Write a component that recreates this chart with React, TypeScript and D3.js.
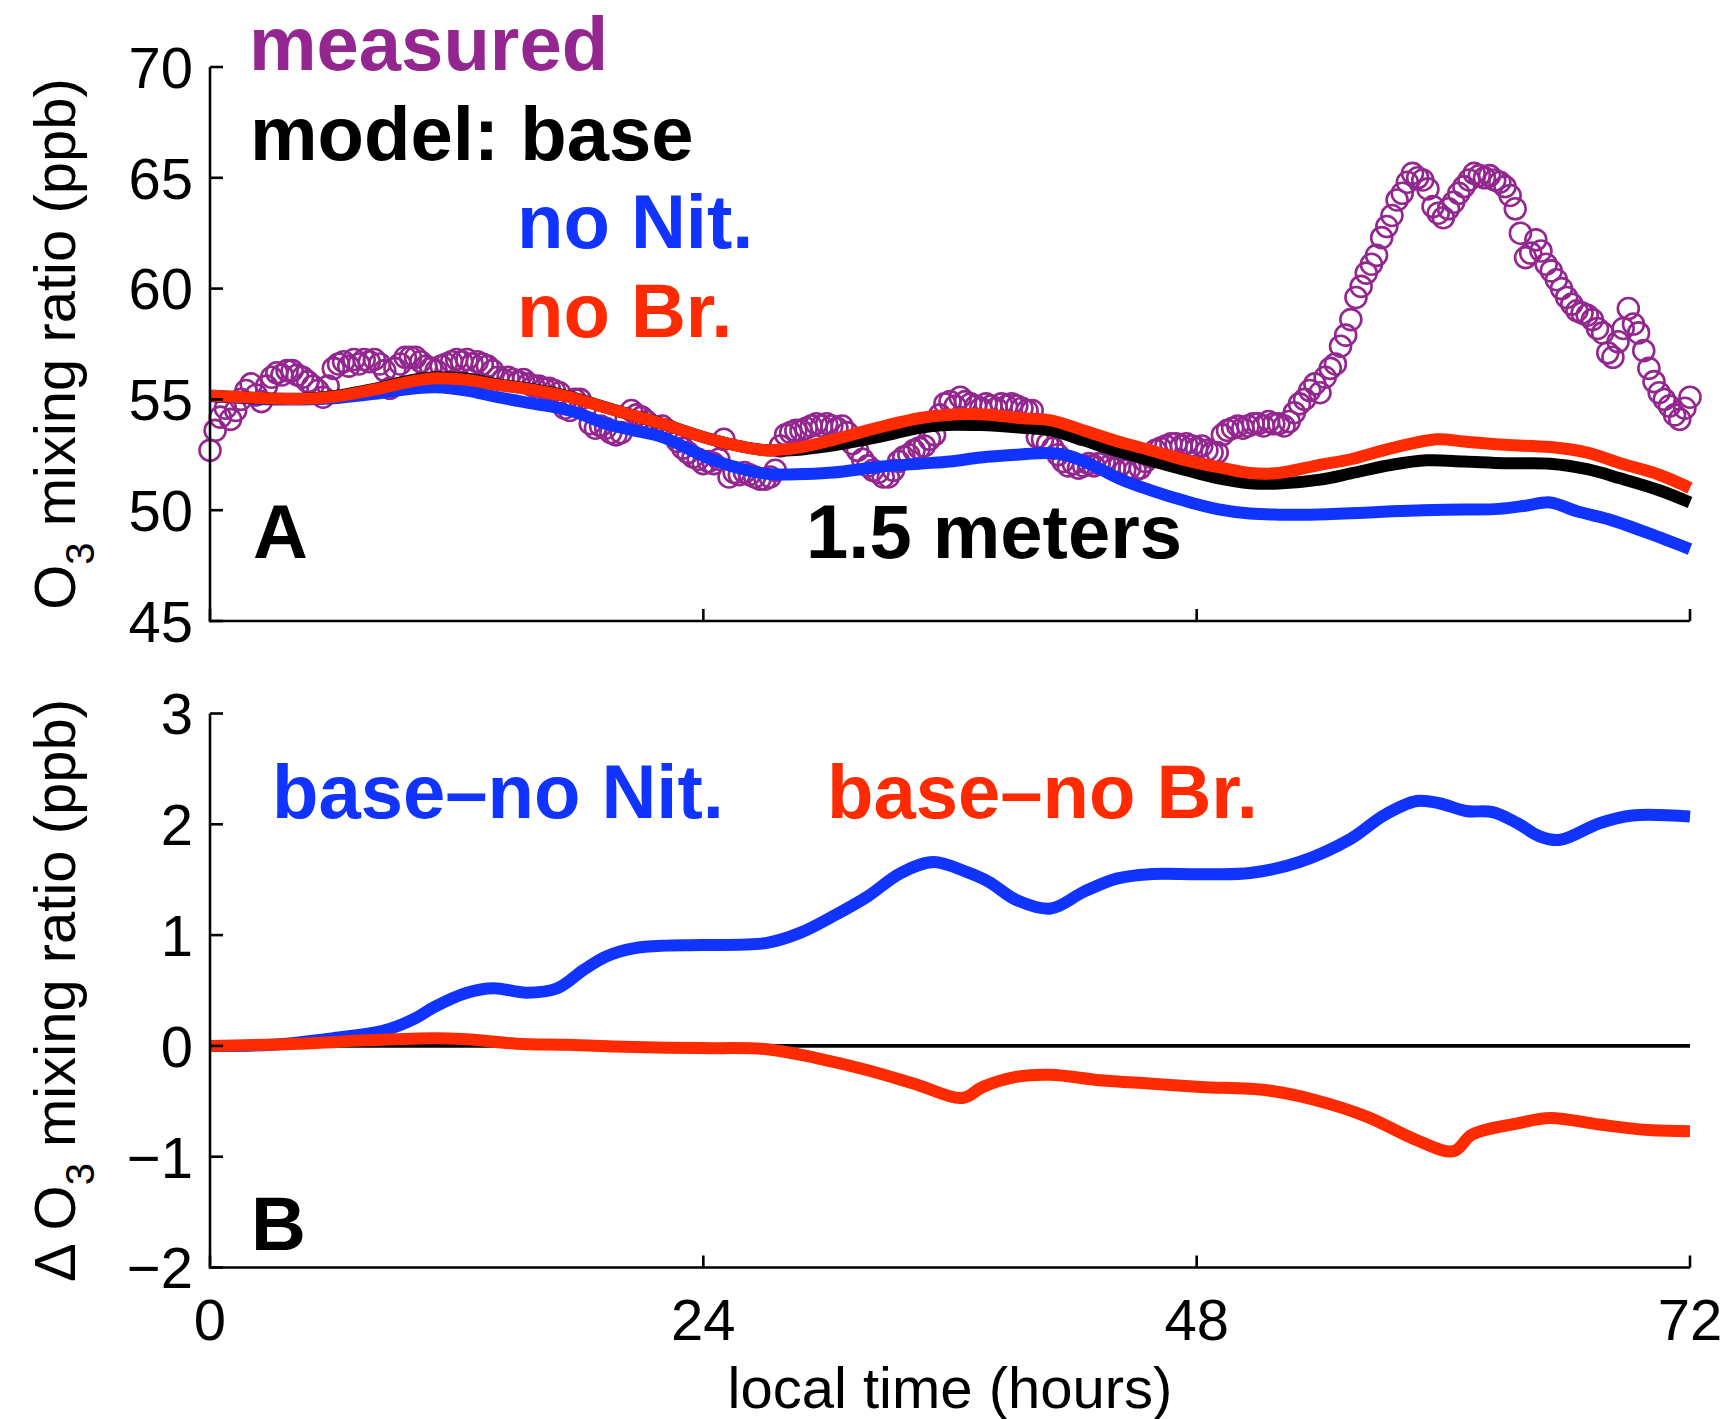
import React from 'react';
import * as d3 from 'd3';

// ---------- data ----------
const xTickHours = [0, 24, 48, 72];
const topYTicks = [45, 50, 55, 60, 65, 70];
const bottomYTicks = [-2, -1, 0, 1, 2, 3];

// measured O3 (ppb), sampled every 0.25 h starting at hour 0
const measuredStepHours = 0.25;
const measured = [
  52.7, 53.6, 54.2, 54.6, 54.1, 54.5, 55.0, 55.4, 55.7, 55.2, 54.9, 55.6,
  56.0, 56.2, 56.1, 56.3, 56.3, 56.1, 56.0, 55.8, 55.6, 55.4, 55.1, 55.6,
  56.4, 56.6, 56.7, 56.5, 56.8, 56.6, 56.8, 56.7, 56.8, 56.6, 56.3, 55.5,
  56.4, 56.6, 56.9, 56.9, 56.9, 56.7, 56.5, 56.4, 56.3, 56.5, 56.6, 56.7,
  56.8, 56.7, 56.8, 56.6, 56.7, 56.6, 56.5, 56.3, 56.0, 55.9, 56.0, 55.9,
  55.8, 55.9, 55.7, 55.6, 55.6, 55.5, 55.5, 55.4, 55.3, 54.6, 54.5, 55.0,
  55.0, 54.6, 53.9, 53.7, 53.8, 53.7, 53.5, 53.4, 53.5, 54.1, 54.5, 54.3,
  54.2, 54.0, 53.8, 53.7, 53.8, 53.6, 53.4, 53.1, 52.8, 52.6, 52.4, 52.3,
  52.1, 52.2, 52.1, 52.3, 53.2, 51.5, 51.7, 51.6, 51.7, 51.6, 51.5, 51.4,
  51.4, 51.5, 51.8, 52.9, 53.4, 53.5, 53.6, 53.6, 53.7, 53.8, 53.9, 53.8,
  53.9, 53.8, 53.7, 53.8, 53.5, 53.0, 52.7, 52.3, 52.0, 51.8, 51.7, 51.5,
  51.5, 51.8, 52.2, 52.4, 52.5, 52.7, 52.8, 52.9, 53.2, 53.4, 54.3, 54.8,
  54.9, 54.7, 55.1, 54.9, 54.8, 54.7, 54.6, 54.8, 54.7, 54.6, 54.8, 54.7,
  54.8, 54.7, 54.6, 54.5, 54.5, 53.3, 53.2, 53.0, 52.8, 52.5, 52.2, 52.0,
  52.1, 51.9, 52.0, 52.1, 52.0, 52.1, 52.2, 52.0, 51.9, 52.0, 51.8, 51.9,
  51.8, 51.9, 52.2, 52.4, 52.7, 52.8, 52.9, 53.0, 53.0, 52.9, 53.0, 52.9,
  52.8, 52.9, 52.7, 52.6, 52.6, 53.4, 53.6, 53.7, 53.8, 53.7, 53.8, 53.9,
  53.9, 53.8, 54.0, 53.9, 53.9, 53.8, 54.0, 54.4, 54.8, 55.0, 55.4, 55.7,
  55.3, 56.0, 56.4, 56.6, 57.4, 57.9, 58.6, 59.6, 60.1, 60.7, 61.1, 61.5,
  62.3, 62.8, 63.3, 64.0, 64.3, 64.8, 65.2, 65.0, 64.9, 64.5, 63.7, 63.4,
  63.2, 63.6, 63.9, 64.3, 64.6, 64.9, 65.2, 65.1, 65.0, 65.1, 64.9, 64.8,
  64.6, 64.2, 63.6, 62.5, 61.4, 61.6, 62.2, 61.7, 61.1, 60.8, 60.4, 60.0,
  59.6, 59.3, 59.0, 58.9, 58.8, 58.6, 58.2, 58.0, 57.1, 56.9, 57.6, 58.2,
  59.1, 58.4, 58.0, 57.2, 56.4, 55.8, 55.3, 55.0, 54.7, 54.3, 54.1, 54.6,
  55.1,
];

// model: base  [hour, ppb]
const modelBase: [number, number][] = [
  [0, 55.15], [2, 55.07], [4.4, 55.03], [6, 55.15], [8, 55.48], [10, 55.9], [11, 56.0],
  [12.5, 55.93], [14, 55.68], [15.8, 55.45], [17.4, 55.15], [19.1, 54.68], [20.5, 54.3],
  [22, 53.9], [24.5, 53.17], [26.9, 52.72], [28.5, 52.72], [30, 52.88], [32.6, 53.32],
  [34.5, 53.72], [35.8, 53.85], [37.5, 53.84], [39.5, 53.72], [40.9, 53.6], [42.5, 53.15],
  [44, 52.7], [45.7, 52.26], [47.5, 51.8], [49, 51.45], [50.6, 51.22], [52, 51.2],
  [54, 51.38], [55.5, 51.66], [57.5, 52.05], [59.2, 52.25], [61, 52.2], [63, 52.12],
  [65.2, 52.1], [67, 51.85], [68.6, 51.44], [70.5, 50.9], [72, 50.35],
];

// model: no Nit.
const modelNoNit: [number, number][] = [
  [0, 55.15], [2, 55.04], [4, 54.99], [6, 55.05], [8, 55.25], [10, 55.5], [11, 55.55],
  [12.5, 55.4], [14, 55.1], [15.8, 54.8], [17, 54.6], [18, 54.35], [19.1, 53.95],
  [20.5, 53.62], [22, 53.3], [24.5, 52.26], [26.9, 51.66], [28.5, 51.62], [30.3, 51.7],
  [32.6, 51.96], [34.5, 52.1], [36, 52.2], [37.5, 52.38], [39.2, 52.5], [40.9, 52.58],
  [41.8, 52.45], [43, 52.0], [44.3, 51.4], [45.7, 50.92], [47.5, 50.4], [49, 50.05],
  [50.6, 49.85], [52, 49.8], [53.5, 49.8], [55.5, 49.86], [57.5, 49.95], [59, 50.0],
  [61, 50.03], [62.7, 50.06], [64, 50.2], [65.2, 50.35], [66.5, 49.95], [68, 49.6],
  [70, 48.95], [72, 48.24],
];

// model: no Br.
const modelNoBr: [number, number][] = [
  [0, 55.18], [2, 55.08], [4.4, 55.02], [6, 55.12], [8, 55.45], [10, 55.85], [11, 55.95],
  [12.5, 55.88], [14, 55.65], [15.8, 55.42], [17.4, 55.13], [19.1, 54.67], [20.5, 54.3],
  [22, 53.9], [24.5, 53.17], [26.9, 52.72], [28.5, 52.8], [30, 53.1], [32.6, 53.75],
  [34.5, 54.15], [35.8, 54.3], [37.5, 54.33], [39.5, 54.15], [40.9, 54.05], [42.5, 53.6],
  [44, 53.15], [45.7, 52.72], [47.5, 52.25], [49, 51.95], [50.6, 51.68], [52, 51.68],
  [54, 52.05], [55.5, 52.3], [57.5, 52.8], [59.7, 53.2], [61, 53.1], [63, 52.95],
  [65.2, 52.85], [67, 52.6], [68.6, 52.12], [70.5, 51.6], [72, 51.0],
];

// panel B: base - no Nit.
const diffNoNit: [number, number][] = [
  [0, 0], [3, 0.01], [6, 0.07], [8.5, 0.14], [10, 0.25], [10.9, 0.35], [12.5, 0.48],
  [13.8, 0.52], [15.4, 0.48], [16.9, 0.52], [18.2, 0.69], [19.3, 0.81], [20.6, 0.88],
  [22.2, 0.905], [23.9, 0.91], [27.1, 0.93], [28.7, 1.02], [30.3, 1.17], [32, 1.35],
  [33.6, 1.56], [35.2, 1.66], [36.8, 1.57], [37.9, 1.48], [39.2, 1.32], [40.9, 1.24],
  [42.5, 1.39], [44.1, 1.51], [45.7, 1.55], [48.2, 1.55], [50.6, 1.56], [53, 1.66],
  [55.5, 1.87], [57.1, 2.08], [58.7, 2.21], [59.8, 2.19], [61.1, 2.12], [62.4, 2.11],
  [63.6, 2.01], [64.7, 1.89], [65.7, 1.86], [67.6, 2.01], [69.2, 2.08], [72, 2.07],
];

// panel B: base - no Br.
const diffNoBr: [number, number][] = [
  [0, 0], [4.4, 0.02], [7.6, 0.05], [10.9, 0.07], [12.5, 0.06], [14.9, 0.02], [17.4, 0.01],
  [20.6, -0.01], [23.9, -0.02], [27.1, -0.03], [29.5, -0.11], [32, -0.22], [34.4, -0.35],
  [36.6, -0.47], [37.6, -0.37], [39.2, -0.28], [40.9, -0.26], [43.3, -0.31], [45.7, -0.34],
  [48.2, -0.37], [51.4, -0.4], [53.8, -0.49], [56.3, -0.64], [58.7, -0.85], [60.5, -0.95],
  [61.4, -0.8], [63.6, -0.7], [65.2, -0.65], [67.6, -0.71], [70, -0.76], [72, -0.77],
];

// ---------- styling ----------
const PURPLE = '#93268F';
const BLUE = '#1033FF';
const RED = '#FF2A00';
const FONT = "'Liberation Sans', Arial, Helvetica, sans-serif";

export default function App() {
  const x = d3.scaleLinear().domain([0, 72]).range([210, 1690]);
  const yTop = d3.scaleLinear().domain([45, 70]).range([621, 67]);
  const yBot = d3.scaleLinear().domain([-2, 3]).range([1267.5, 713.5]);

  const curve = d3.curveCatmullRom.alpha(0.5);
  const lineTop = d3
    .line<[number, number]>()
    .x((d) => x(d[0]))
    .y((d) => yTop(d[1]))
    .curve(curve);
  const lineBot = d3
    .line<[number, number]>()
    .x((d) => x(d[0]))
    .y((d) => yBot(d[1]))
    .curve(curve);

  const measPts = measured.map((v, i) => [i * measuredStepHours, v] as [number, number]);

  const axisW = 2.6;
  const tickLen = 13;
  const tickFs = 58;
  const boldFs = 76;
  const lineW = 12;

  const renderAxes = (
    y: d3.ScaleLinear<number, number>,
    ticks: number[],
    showXLabels: boolean,
    fmt: (v: number) => string
  ) => {
    const y0 = y.range()[0];
    const y1 = y.range()[1];
    return (
      <g>
        <line x1={x(0)} x2={x(0)} y1={y0 + axisW / 2} y2={y1} stroke="#000" strokeWidth={axisW} />
        <line x1={x(0)} x2={x(72)} y1={y0} y2={y0} stroke="#000" strokeWidth={axisW} />
        {ticks.map((t) => (
          <g key={'y' + t}>
            <line x1={x(0)} x2={x(0) + tickLen} y1={y(t)} y2={y(t)} stroke="#000" strokeWidth={axisW} />
            <text
              x={193}
              y={y(t)}
              dy="0.36em"
              textAnchor="end"
              fontSize={tickFs}
              fontFamily={FONT}
              fill="#000"
            >
              {fmt(t)}
            </text>
          </g>
        ))}
        {xTickHours.map((h) => (
          <g key={'x' + h}>
            <line x1={x(h)} x2={x(h)} y1={y0} y2={y0 - 12} stroke="#000" strokeWidth={axisW} />
            {showXLabels && (
              <text
                x={x(h)}
                y={1340}
                textAnchor="middle"
                fontSize={tickFs}
                fontFamily={FONT}
                fill="#000"
              >
                {h}
              </text>
            )}
          </g>
        ))}
      </g>
    );
  };

  const minusFmt = (v: number) => (v < 0 ? '\u2212' + Math.abs(v) : String(v));

  return (
    <svg
      width={1729}
      height={1419}
      viewBox="0 0 1729 1419"
      style={{ position: 'absolute', left: 0, top: 0, display: 'block', background: '#fff' }}
    >
      <rect x={0} y={0} width={1729} height={1419} fill="#fff" />

      {/* ---------- Panel A ---------- */}
      <g>
        {measPts.map((d, i) => (
          <circle
            key={i}
            cx={x(d[0])}
            cy={yTop(d[1])}
            r={10.5}
            fill="none"
            stroke={PURPLE}
            strokeWidth={2.6}
          />
        ))}
        <path d={lineTop(modelNoNit) || ''} fill="none" stroke={BLUE} strokeWidth={lineW} strokeLinejoin="round" />
        <path d={lineTop(modelBase) || ''} fill="none" stroke="#000" strokeWidth={lineW} strokeLinejoin="round" />
        <path d={lineTop(modelNoBr) || ''} fill="none" stroke={RED} strokeWidth={lineW} strokeLinejoin="round" />
        {renderAxes(yTop, topYTicks, false, (v) => String(v))}

        <g fontFamily={FONT} fontWeight="bold" fontSize={boldFs}>
          <text x={249} y={70} fill={PURPLE}>measured</text>
          <text x={250} y={160} fill="#000">model: base</text>
          <text x={517} y={248} fill={BLUE}>no Nit.</text>
          <text x={517} y={337} fill={RED}>no Br.</text>
          <text x={253} y={558} fill="#000">A</text>
          <text x={806} y={558} fill="#000">1.5 meters</text>
        </g>

        <text
          transform={`translate(75, ${(yTop.range()[0] + yTop.range()[1]) / 2}) rotate(-90)`}
          textAnchor="middle"
          fontFamily={FONT}
          fontSize={tickFs}
          fill="#000"
        >
          <tspan>O</tspan>
          <tspan dy={19} fontSize={40}>3</tspan>
          <tspan dy={-19}> mixing ratio (ppb)</tspan>
        </text>
      </g>

      {/* ---------- Panel B ---------- */}
      <g>
        <line x1={x(0)} x2={x(72)} y1={yBot(0)} y2={yBot(0)} stroke="#000" strokeWidth={3.6} />
        <path d={lineBot(diffNoNit) || ''} fill="none" stroke={BLUE} strokeWidth={lineW} strokeLinejoin="round" />
        <path d={lineBot(diffNoBr) || ''} fill="none" stroke={RED} strokeWidth={lineW} strokeLinejoin="round" />
        {renderAxes(yBot, bottomYTicks, true, minusFmt)}

        <g fontFamily={FONT} fontWeight="bold" fontSize={boldFs}>
          <text x={272} y={818} fill={BLUE}>base–no Nit.</text>
          <text x={827} y={818} fill={RED}>base–no Br.</text>
          <text x={251} y={1250} fill="#000">B</text>
        </g>

        <text
          transform={`translate(75, ${(yBot.range()[0] + yBot.range()[1]) / 2}) rotate(-90)`}
          textAnchor="middle"
          fontFamily={FONT}
          fontSize={tickFs}
          fill="#000"
        >
          <tspan>Δ O</tspan>
          <tspan dy={19} fontSize={40}>3</tspan>
          <tspan dy={-19}> mixing ratio (ppb)</tspan>
        </text>

        <text x={950} y={1408} textAnchor="middle" fontFamily={FONT} fontSize={tickFs} fill="#000">
          local time (hours)
        </text>
      </g>
    </svg>
  );
}
